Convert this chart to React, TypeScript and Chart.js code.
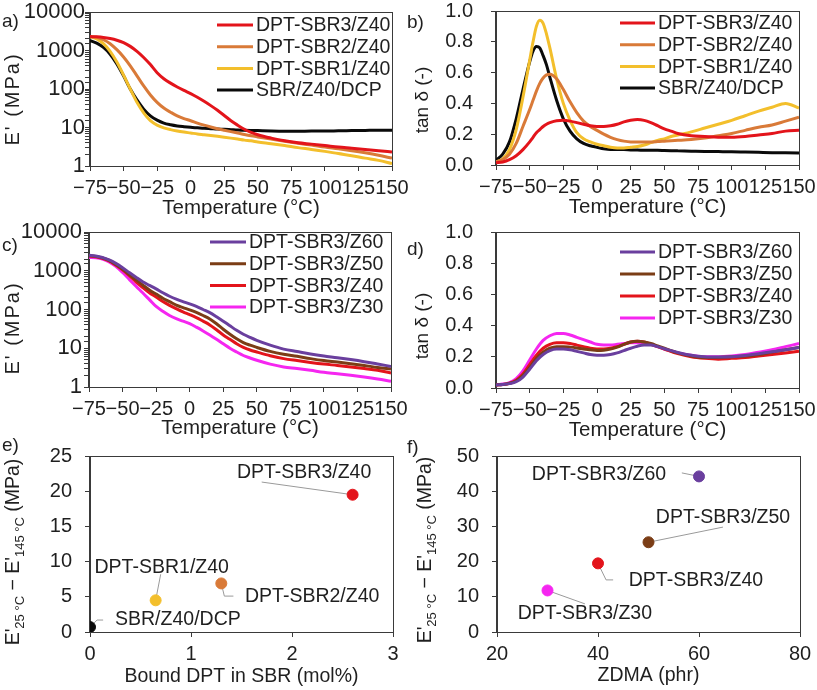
import React, { useEffect, useRef } from 'react';
import { Chart, registerables } from 'chart.js';
Chart.register(...registerables);

const FONT = '"Liberation Sans", Arial, Helvetica, sans-serif';
const TEXT = '#1f1f1f';
const AXIS = '#3a3a3a';
const LEADER = '#9a9a9a';

const RED = '#e3141b';
const ORANGE = '#d97a38';
const YELLOW = '#f3bf2c';
const BLACK = '#0a0a0a';
const PURPLE = '#6a3f9e';
const BROWN = '#7b3d16';
const MAGENTA = '#f526f0';

// ---------- data ----------
const temps = [-75, -70, -65, -60, -55, -50, -45, -40, -35, -30, -25, -20, -15, -10, -5, 0, 5, 10, 15, 20, 25, 30, 35, 40, 45, 50, 60, 70, 80, 90, 100, 110, 120, 130, 140, 150];
const tanTemps = [-75, -70, -65, -60, -55, -50, -47.5, -45, -42.5, -40, -37.5, -35, -30, -25, -20, -15, -10, -5, 0, 5, 10, 15, 20, 25, 30, 35, 40, 45, 50, 55, 60, 70, 80, 90, 100, 110, 120, 130, 140, 150];

// panel a: E' (MPa)
const aSBR3 = [2300, 2260, 2180, 2040, 1850, 1600, 1280, 950, 660, 430, 265, 185, 142, 113, 92, 76, 61, 48, 37, 28, 20.5, 15, 11.5, 9, 7.5, 6.5, 5.3, 4.5, 4.0, 3.7, 3.4, 3.1, 2.9, 2.7, 2.5, 2.3];
const aSBR2 = [2300, 2200, 1900, 1500, 1050, 680, 400, 220, 120, 70, 45, 32, 25, 20, 17, 15, 13, 11.5, 10.3, 9.3, 8.5, 7.8, 7.2, 6.6, 6.1, 5.7, 5.0, 4.4, 3.9, 3.5, 3.1, 2.8, 2.5, 2.2, 1.9, 1.6];
const aSBR1 = [2300, 2000, 1500, 950, 500, 230, 100, 45, 24, 15, 11.5, 9.8, 8.8, 8.1, 7.6, 7.2, 6.8, 6.5, 6.2, 5.9, 5.6, 5.3, 5.0, 4.7, 4.5, 4.2, 3.8, 3.4, 3.0, 2.7, 2.4, 2.1, 1.85, 1.6, 1.4, 1.15];
const aDCP = [1800, 1550, 1200, 800, 450, 220, 100, 52, 30, 20, 15.5, 13, 11.8, 11, 10.5, 10.1, 9.8, 9.5, 9.3, 9.1, 9.0, 8.8, 8.6, 8.5, 8.4, 8.3, 8.1, 8.0, 8.0, 8.1, 8.1, 8.2, 8.3, 8.4, 8.5, 8.5];

// panel b: tan delta
const bSBR3 = [0.015, 0.02, 0.035, 0.06, 0.10, 0.15, 0.18, 0.21, 0.23, 0.25, 0.265, 0.275, 0.288, 0.29, 0.285, 0.275, 0.265, 0.255, 0.25, 0.25, 0.255, 0.265, 0.28, 0.29, 0.295, 0.29, 0.275, 0.255, 0.235, 0.22, 0.205, 0.19, 0.185, 0.18, 0.18, 0.185, 0.195, 0.205, 0.22, 0.225];
const bSBR2 = [0.02, 0.035, 0.07, 0.14, 0.25, 0.36, 0.42, 0.48, 0.53, 0.565, 0.585, 0.59, 0.56, 0.49, 0.41, 0.34, 0.285, 0.25, 0.225, 0.20, 0.18, 0.165, 0.155, 0.15, 0.15, 0.15, 0.15, 0.152, 0.155, 0.158, 0.16, 0.165, 0.175, 0.19, 0.205, 0.225, 0.245, 0.26, 0.285, 0.31];
const bSBR1 = [0.02, 0.04, 0.10, 0.23, 0.44, 0.68, 0.80, 0.90, 0.94, 0.92, 0.85, 0.76, 0.56, 0.40, 0.29, 0.21, 0.17, 0.15, 0.135, 0.125, 0.115, 0.11, 0.11, 0.115, 0.12, 0.13, 0.145, 0.16, 0.17, 0.185, 0.195, 0.215, 0.24, 0.265, 0.29, 0.32, 0.35, 0.375, 0.40, 0.37];
const bDCP = [0.03, 0.07, 0.15, 0.30, 0.49, 0.67, 0.74, 0.77, 0.76, 0.71, 0.65, 0.57, 0.42, 0.30, 0.22, 0.17, 0.14, 0.125, 0.115, 0.105, 0.10, 0.10, 0.10, 0.098, 0.097, 0.096, 0.095, 0.095, 0.094, 0.093, 0.092, 0.09, 0.088, 0.087, 0.086, 0.084, 0.082, 0.08, 0.079, 0.078];

// panel c: E' (MPa)
const cZ60 = [2500, 2400, 2200, 1900, 1550, 1200, 900, 680, 520, 420, 340, 270, 220, 185, 160, 140, 120, 100, 83, 65, 50, 38, 29, 23, 19, 16, 12, 9.5, 8.2, 7.1, 6.3, 5.7, 5.1, 4.5, 3.9, 3.4];
const cZ50 = [2450, 2350, 2150, 1850, 1450, 1100, 800, 580, 430, 320, 250, 195, 160, 130, 112, 98, 84, 70, 57, 43, 31, 23, 17.5, 14, 12, 10.5, 8.3, 7, 6.2, 5.4, 4.8, 4.4, 4.0, 3.6, 3.2, 2.9];
const cZ40 = [2400, 2300, 2100, 1800, 1400, 1050, 750, 520, 370, 270, 210, 160, 128, 105, 87, 74, 62, 50, 40, 30, 22, 17, 13, 10.5, 9, 8, 6.4, 5.4, 4.8, 4.3, 3.9, 3.6, 3.3, 3.0, 2.7, 2.3];
const cZ30 = [2200, 2150, 2000, 1700, 1300, 900, 600, 400, 270, 180, 120, 90, 70, 58, 50, 43, 35, 28, 22, 17, 13, 10, 8, 6.5, 5.6, 4.9, 3.9, 3.3, 3.0, 2.7, 2.4, 2.2, 2.0, 1.8, 1.6, 1.4];

// panel d: tan delta
const dZ60 = [0.02, 0.022, 0.028, 0.04, 0.07, 0.12, 0.175, 0.215, 0.24, 0.25, 0.25, 0.245, 0.235, 0.225, 0.215, 0.21, 0.21, 0.215, 0.225, 0.24, 0.255, 0.268, 0.275, 0.275, 0.265, 0.252, 0.228, 0.21, 0.2, 0.198, 0.2, 0.208, 0.22, 0.232, 0.245, 0.26];
const dZ50 = [0.02, 0.022, 0.03, 0.045, 0.08, 0.13, 0.19, 0.23, 0.255, 0.265, 0.265, 0.262, 0.257, 0.25, 0.245, 0.24, 0.242, 0.25, 0.262, 0.28, 0.295, 0.30, 0.295, 0.285, 0.27, 0.255, 0.225, 0.205, 0.195, 0.195, 0.2, 0.205, 0.215, 0.23, 0.245, 0.26];
const dZ40 = [0.02, 0.022, 0.03, 0.05, 0.09, 0.15, 0.21, 0.255, 0.28, 0.29, 0.29, 0.285, 0.275, 0.265, 0.255, 0.25, 0.25, 0.255, 0.265, 0.28, 0.295, 0.30, 0.295, 0.28, 0.265, 0.25, 0.22, 0.2, 0.19, 0.185, 0.19, 0.195, 0.205, 0.215, 0.225, 0.235];
const dZ30 = [0.02, 0.025, 0.035, 0.06, 0.11, 0.18, 0.25, 0.305, 0.335, 0.35, 0.35, 0.34, 0.325, 0.31, 0.295, 0.28, 0.275, 0.275, 0.28, 0.285, 0.29, 0.29, 0.29, 0.28, 0.265, 0.25, 0.225, 0.21, 0.2, 0.2, 0.205, 0.215, 0.23, 0.245, 0.265, 0.285];

// panel e: scatter
const eNames = ['SBR/Z40/DCP', 'DPT-SBR1/Z40', 'DPT-SBR2/Z40', 'DPT-SBR3/Z40'];
const eBoundDPT = [0, 0.65, 1.3, 2.6];
const eDeltaE = [0.7, 4.5, 6.9, 19.5];
const eColors = [BLACK, YELLOW, ORANGE, RED];

// panel f: scatter
const fNames = ['DPT-SBR3/Z30', 'DPT-SBR3/Z40', 'DPT-SBR3/Z50', 'DPT-SBR3/Z60'];
const fZDMA = [30, 40, 50, 60];
const fDeltaE = [11.8, 19.5, 25.5, 44.2];
const fColors = [MAGENTA, RED, BROWN, PURPLE];

// ---------- helpers ----------
type Rect = { l: number; t: number; w: number; h: number };
type Area = { l: number; t: number; r: number; b: number };
type Part = { t: string; sub?: boolean };

const fmtT = (v: number) => (v < 0 ? '\u2212' + Math.abs(v) : String(v));
const fmtLog = (v: number) => {
  const l = Math.log10(v);
  return Math.abs(l - Math.round(l)) < 1e-6 ? String(Math.round(v)) : '';
};
const fmt1 = (v: number) => Number(v).toFixed(1);
const fmt0 = (v: number) => String(v);

const framePlugin = {
  id: 'frame',
  afterDatasetsDraw(chart: any) {
    const { ctx, chartArea: a } = chart;
    ctx.save();
    ctx.strokeStyle = AXIS;
    ctx.lineWidth = 1;
    ctx.strokeRect(Math.round(a.left) - 0.5, Math.round(a.top) + 0.5, Math.round(a.right - a.left) + 1, Math.round(a.bottom - a.top));
    ctx.restore();
  },
};

function legendPlugin(x: number, y: number, row: number, len: number) {
  return {
    id: 'boxLegend',
    afterDraw(chart: any) {
      const ctx = chart.ctx;
      ctx.save();
      ctx.font = `19.5px ${FONT}`;
      ctx.textBaseline = 'middle';
      ctx.textAlign = 'left';
      chart.data.datasets.forEach((ds: any, i: number) => {
        const yy = y + i * row;
        ctx.strokeStyle = ds.borderColor;
        ctx.lineWidth = 3;
        ctx.beginPath();
        ctx.moveTo(x, yy);
        ctx.lineTo(x + len, yy);
        ctx.stroke();
        ctx.fillStyle = TEXT;
        ctx.fillText(ds.label, x + len + 3, yy + 1);
      });
      ctx.restore();
    },
  };
}

function yTitlePlugin(parts: Part[], x: number, cy: number, size: number, spacing: number) {
  return {
    id: 'yTitle',
    afterDraw(chart: any) {
      const ctx = chart.ctx;
      ctx.save();
      ctx.translate(x, cy);
      ctx.rotate(-Math.PI / 2);
      ctx.fillStyle = TEXT;
      ctx.textBaseline = 'middle';
      ctx.textAlign = 'left';
      (ctx as any).letterSpacing = spacing + 'px';
      const fonts = parts.map((p) => `${p.sub ? 13 : size}px ${FONT}`);
      let total = 0;
      const widths = parts.map((p, i) => {
        ctx.font = fonts[i];
        const w = ctx.measureText(p.t).width;
        total += w;
        return w;
      });
      let cx = -total / 2;
      parts.forEach((p, i) => {
        ctx.font = fonts[i];
        ctx.fillText(p.t, cx, p.sub ? 6 : 0);
        cx += widths[i];
      });
      (ctx as any).letterSpacing = '0px';
      ctx.restore();
    },
  };
}

type Callout = { i: number; tx: number; ty: number; via: [number, number][] };

function calloutPlugin(items: Callout[], xs: number[], ys: number[], names: string[]) {
  return {
    id: 'callouts',
    beforeDatasetsDraw(chart: any) {
      const { ctx, scales } = chart;
      ctx.save();
      ctx.strokeStyle = LEADER;
      ctx.lineWidth = 1;
      items.forEach((it) => {
        ctx.beginPath();
        ctx.moveTo(scales.x.getPixelForValue(xs[it.i]), scales.y.getPixelForValue(ys[it.i]));
        it.via.forEach(([vx, vy]) => ctx.lineTo(scales.x.getPixelForValue(vx), scales.y.getPixelForValue(vy)));
        ctx.stroke();
      });
      ctx.restore();
    },
    afterDatasetsDraw(chart: any) {
      const { ctx, scales } = chart;
      ctx.save();
      ctx.fillStyle = TEXT;
      ctx.font = `19.5px ${FONT}`;
      ctx.textAlign = 'center';
      ctx.textBaseline = 'middle';
      items.forEach((it) => {
        ctx.fillText(names[it.i], scales.x.getPixelForValue(it.tx), scales.y.getPixelForValue(it.ty));
      });
      ctx.restore();
    },
  };
}

type Series = { label: string; color: string; values: number[] };

type Panel = {
  canvas: Rect;
  area: Area;
  kind: 'line' | 'scatter';
  xs?: number[];
  series?: Series[];
  sx?: number[];
  sy?: number[];
  colors?: string[];
  callouts?: Callout[];
  names?: string[];
  x: { min: number; max: number; step: number; fmt: (v: number) => string; title: string; titleY: number; titleSize: number };
  y: { type: 'linear' | 'logarithmic'; min: number; max: number; step?: number; fmt: (v: number) => string; pad: number; size: number };
  yTitle: { parts: Part[]; x: number; y: number; size: number; spacing: number };
  legend?: { x: number; y: number; row: number; len: number };
};

function gridOpts() {
  return { display: true, drawOnChartArea: false, drawTicks: true, tickLength: 5, color: AXIS, lineWidth: 1 };
}

function buildConfig(p: Panel): any {
  const c = p.canvas;
  const a = p.area;
  const yWidth = a.l - c.l;
  const xHeight = c.t + c.h - a.b;
  const titlePadB = c.t + c.h - p.x.titleY - (p.x.titleSize * 1.2) / 2;

  const scales: any = {
    x: {
      type: 'linear',
      min: p.x.min,
      max: p.x.max,
      ticks: {
        stepSize: p.x.step,
        autoSkip: false,
        maxRotation: 0,
        minRotation: 0,
        padding: 5,
        color: TEXT,
        font: { size: 20, family: FONT },
        callback: (v: any) => p.x.fmt(Number(v)),
      },
      grid: gridOpts(),
      border: { display: true, color: AXIS, width: 1 },
      title: { display: true, text: p.x.title, color: TEXT, font: { size: p.x.titleSize, family: FONT }, padding: { top: 0, bottom: titlePadB } },
      afterFit: (s: any) => {
        s.height = xHeight;
        s.paddingLeft = 0;
        s.paddingRight = 0;
      },
    },
    y: {
      type: p.y.type,
      min: p.y.min,
      max: p.y.max,
      ticks: {
        autoSkip: false,
        padding: p.y.pad,
        color: TEXT,
        font: { size: p.y.size, family: FONT },
        callback: (v: any) => p.y.fmt(Number(v)),
        ...(p.y.step ? { stepSize: p.y.step } : {}),
      },
      grid: gridOpts(),
      border: { display: true, color: AXIS, width: 1 },
      title: { display: false },
      afterFit: (s: any) => {
        s.width = yWidth;
        s.paddingTop = 0;
        s.paddingBottom = 0;
      },
    },
  };

  const plugins: any[] = [
    framePlugin,
    yTitlePlugin(p.yTitle.parts, p.yTitle.x - c.l, p.yTitle.y - c.t, p.yTitle.size, p.yTitle.spacing),
  ];
  if (p.legend) plugins.push(legendPlugin(p.legend.x, p.legend.y, p.legend.row, p.legend.len));

  let datasets: any[];
  if (p.kind === 'line') {
    datasets = (p.series || []).map((s) => ({
      label: s.label,
      data: (p.xs || []).map((t, k) => ({ x: t, y: s.values[k] })),
      borderColor: s.color,
      backgroundColor: s.color,
      borderWidth: 3,
      pointRadius: 0,
      cubicInterpolationMode: 'monotone',
      fill: false,
    }));
  } else {
    const sx = p.sx || [];
    const sy = p.sy || [];
    datasets = [
      {
        label: 'points',
        data: sx.map((x, k) => ({ x, y: sy[k] })),
        pointBackgroundColor: p.colors,
        pointBorderColor: p.colors,
        pointBorderWidth: 1,
        pointRadius: 5.5,
        pointHoverRadius: 5.5,
        showLine: false,
      },
    ];
    plugins.push(calloutPlugin(p.callouts || [], sx, sy, p.names || []));
  }

  return {
    type: p.kind,
    data: { datasets },
    options: {
      responsive: false,
      maintainAspectRatio: false,
      animation: false,
      devicePixelRatio: 1,
      events: [],
      layout: { padding: { left: 0, top: a.t - c.t, right: c.l + c.w - a.r, bottom: 0 } },
      plugins: { legend: { display: false }, tooltip: { enabled: false } },
      scales,
    },
    plugins,
  };
}

const tempAxis = (titleY: number) => ({ min: -75, max: 150, step: 25, fmt: fmtT, title: 'Temperature (\u00B0C)', titleY, titleSize: 20.5 });
const logAxis = (pad: number) => ({ type: 'logarithmic' as const, min: 1, max: 10000, fmt: fmtLog, pad, size: 22 });
const tanAxis = (pad: number) => ({ type: 'linear' as const, min: 0, max: 1, step: 0.2, fmt: fmt1, pad, size: 20 });
const eTitle: Part[] = [{ t: "E'" }, { t: '25 \u00B0C', sub: true }, { t: " \u2212 E'" }, { t: '145 \u00B0C', sub: true }, { t: ' (MPa)' }];

const PANELS: Panel[] = [
  {
    canvas: { l: 0, t: 0, w: 408, h: 225 },
    area: { l: 90, t: 12, r: 392, b: 166 },
    kind: 'line',
    xs: temps,
    series: [
      { label: 'DPT-SBR3/Z40', color: RED, values: aSBR3 },
      { label: 'DPT-SBR2/Z40', color: ORANGE, values: aSBR2 },
      { label: 'DPT-SBR1/Z40', color: YELLOW, values: aSBR1 },
      { label: 'SBR/Z40/DCP', color: BLACK, values: aDCP },
    ],
    x: tempAxis(208),
    y: logAxis(0),
    yTitle: { parts: [{ t: "E' (MPa)" }], x: 13, y: 99, size: 20, spacing: 2 },
    legend: { x: 217, y: 25, row: 21.7, len: 36 },
  },
  {
    canvas: { l: 405, t: 0, w: 412, h: 225 },
    area: { l: 496, t: 11, r: 799, b: 165 },
    kind: 'line',
    xs: tanTemps,
    series: [
      { label: 'DPT-SBR3/Z40', color: RED, values: bSBR3 },
      { label: 'DPT-SBR2/Z40', color: ORANGE, values: bSBR2 },
      { label: 'DPT-SBR1/Z40', color: YELLOW, values: bSBR1 },
      { label: 'SBR/Z40/DCP', color: BLACK, values: bDCP },
    ],
    x: tempAxis(207),
    y: tanAxis(18),
    yTitle: { parts: [{ t: 'tan \u03B4 (-)' }], x: 423, y: 100, size: 19, spacing: 0 },
    legend: { x: 215, y: 23, row: 21.7, len: 35 },
  },
  {
    canvas: { l: 0, t: 215, w: 408, h: 235 },
    area: { l: 89, t: 232, r: 391, b: 387 },
    kind: 'line',
    xs: temps,
    series: [
      { label: 'DPT-SBR3/Z60', color: PURPLE, values: cZ60 },
      { label: 'DPT-SBR3/Z50', color: BROWN, values: cZ50 },
      { label: 'DPT-SBR3/Z40', color: RED, values: cZ40 },
      { label: 'DPT-SBR3/Z30', color: MAGENTA, values: cZ30 },
    ],
    x: tempAxis(428),
    y: logAxis(2),
    yTitle: { parts: [{ t: "E' (MPa)" }], x: 13, y: 328, size: 20, spacing: 2 },
    legend: { x: 210, y: 27, row: 21.7, len: 36 },
  },
  {
    canvas: { l: 405, t: 215, w: 412, h: 235 },
    area: { l: 496, t: 232, r: 799, b: 388 },
    kind: 'line',
    xs: temps,
    series: [
      { label: 'DPT-SBR3/Z60', color: PURPLE, values: dZ60 },
      { label: 'DPT-SBR3/Z50', color: BROWN, values: dZ50 },
      { label: 'DPT-SBR3/Z40', color: RED, values: dZ40 },
      { label: 'DPT-SBR3/Z30', color: MAGENTA, values: dZ30 },
    ],
    x: tempAxis(430),
    y: tanAxis(18),
    yTitle: { parts: [{ t: 'tan \u03B4 (-)' }], x: 423, y: 326, size: 19, spacing: 0 },
    legend: { x: 215, y: 37, row: 22, len: 35 },
  },
  {
    canvas: { l: 0, t: 440, w: 408, h: 250 },
    area: { l: 90, t: 456, r: 393, b: 632 },
    kind: 'scatter',
    sx: eBoundDPT,
    sy: eDeltaE,
    colors: eColors,
    names: eNames,
    callouts: [
      { i: 3, tx: 2.12, ty: 22.6, via: [[1.7, 21.3]] },
      { i: 1, tx: 0.71, ty: 9.2, via: [[0.7, 8.2]] },
      { i: 2, tx: 2.2, ty: 5.0, via: [[1.33, 5.1], [1.42, 5.1]] },
      { i: 0, tx: 0.87, ty: 1.7, via: [[0.07, 1.7], [0.13, 1.7]] },
    ],
    x: { min: 0, max: 3, step: 1, fmt: fmt0, title: 'Bound DPT in SBR (mol%)', titleY: 677, titleSize: 19.5 },
    y: { type: 'linear', min: 0, max: 25, step: 5, fmt: fmt0, pad: 13, size: 20 },
    yTitle: { parts: eTitle, x: 14, y: 552, size: 19.5, spacing: 0 },
  },
  {
    canvas: { l: 405, t: 440, w: 412, h: 250 },
    area: { l: 497, t: 456, r: 800, b: 632 },
    kind: 'scatter',
    sx: fZDMA,
    sy: fDeltaE,
    colors: fColors,
    names: fNames,
    callouts: [
      { i: 3, tx: 40.2, ty: 44.6, via: [[56.6, 45.2]] },
      { i: 2, tx: 64.75, ty: 32.4, via: [[64.75, 29.8]] },
      { i: 1, tx: 59.4, ty: 14.5, via: [[41.6, 14.8], [43.0, 14.8]] },
      { i: 0, tx: 37.4, ty: 5.1, via: [[37.4, 8.0]] },
    ],
    x: { min: 20, max: 80, step: 20, fmt: fmt0, title: 'ZDMA (phr)', titleY: 676, titleSize: 19.5 },
    y: { type: 'linear', min: 0, max: 50, step: 10, fmt: fmt0, pad: 13, size: 20 },
    yTitle: { parts: eTitle, x: 426, y: 550, size: 19.5, spacing: 0 },
  },
];

const PANEL_LABELS = [
  { t: 'a)', x: 2, y: 21 },
  { t: 'b)', x: 407, y: 22 },
  { t: 'c)', x: 2, y: 245 },
  { t: 'd)', x: 407, y: 249 },
  { t: 'e)', x: 2, y: 445 },
  { t: 'f)', x: 407, y: 447 },
];

export default function App() {
  const refs = useRef<(HTMLCanvasElement | null)[]>([]);
  useEffect(() => {
    Chart.defaults.font.family = FONT;
    Chart.defaults.color = TEXT;
    const charts = PANELS.map((p, i) => new Chart(refs.current[i] as HTMLCanvasElement, buildConfig(p)));
    return () => charts.forEach((c) => c.destroy());
  }, []);
  return (
    <div style={{ position: 'absolute', left: 0, top: 0, width: 817, height: 690, background: '#ffffff', overflow: 'hidden' }}>
      {PANELS.map((p, i) => (
        <canvas
          key={i}
          ref={(el) => {
            refs.current[i] = el;
          }}
          width={p.canvas.w}
          height={p.canvas.h}
          style={{ position: 'absolute', left: p.canvas.l, top: p.canvas.t, width: p.canvas.w, height: p.canvas.h }}
        />
      ))}
      {PANEL_LABELS.map((l) => (
        <div
          key={l.t}
          style={{ position: 'absolute', left: l.x, top: l.y - 11, lineHeight: '22px', fontSize: 19, fontFamily: FONT, color: TEXT }}
        >
          {l.t}
        </div>
      ))}
    </div>
  );
}
